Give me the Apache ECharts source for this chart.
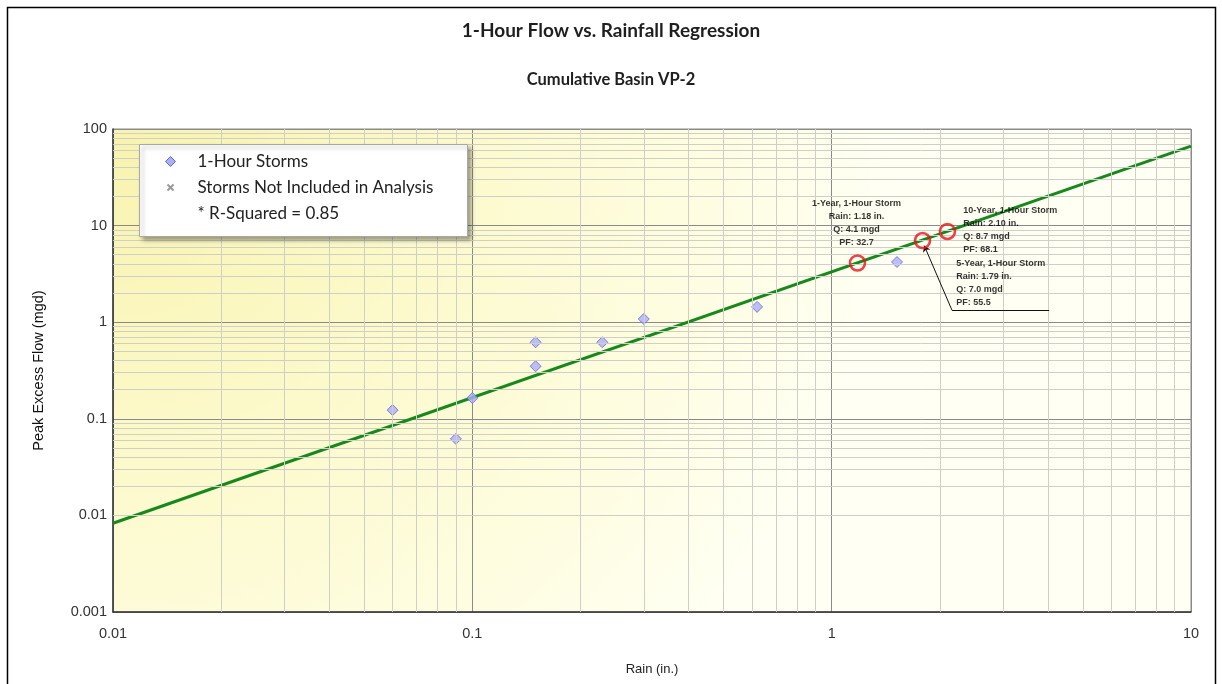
<!DOCTYPE html>
<html><head><meta charset="utf-8">
<script src="https://cdn.jsdelivr.net/npm/echarts@6/dist/echarts.min.js"></script>
<style>html,body{margin:0;padding:0;background:#fff}#c{width:1222px;height:684px}</style>
</head><body><div id="c"></div>
<script>
// ---- data ----
const stormRain = [0.06, 0.09, 0.10, 0.15, 0.15, 0.23, 0.30, 0.62, 1.52];
const stormFlow = [0.123, 0.062, 0.164, 0.62, 0.35, 0.62, 1.08, 1.44, 4.2];
const excludedRain = [];
const excludedFlow = [];
const regressionRain = [0.01, 10];
const regressionFlow = [0.0083, 66.5];
const designNames = ['1-Year, 1-Hour Storm', '5-Year, 1-Hour Storm', '10-Year, 1-Hour Storm'];
const designRain = [1.18, 1.79, 2.10];
const designFlow = [4.1, 7.0, 8.7];
const designPF = [32.7, 55.5, 68.1];
const leaderRain = [4.03, 2.16, 1.81];
const leaderFlow = [1.34, 1.34, 6.2];
const rSquared = 0.85;
const xTicks = [0.01, 0.1, 1, 10];
const xTickLabels = ['0.01', '0.1', '1', '10'];
const yTicks = [0.001, 0.01, 0.1, 1, 10, 100];
const yTickLabels = ['0.001', '0.01', '0.1', '1', '10', '100'];
const xMinor = [0.02,0.03,0.04,0.05,0.06,0.07,0.08,0.09,0.2,0.3,0.4,0.5,0.6,0.7,0.8,0.9,2,3,4,5,6,7,8,9];
const yMinor = [0.002,0.003,0.004,0.005,0.006,0.007,0.008,0.009,0.02,0.03,0.04,0.05,0.06,0.07,0.08,0.09,
  0.2,0.3,0.4,0.5,0.6,0.7,0.8,0.9,2,3,4,5,6,7,8,9,20,30,40,50,60,70,80,90];

function tickLabel(ticks, labels) {
  return function (v) {
    for (let i = 0; i < ticks.length; i++) {
      if (Math.abs(Math.log10(v) - Math.log10(ticks[i])) < 1e-6) return labels[i];
    }
    return '';
  };
}

const chart = echarts.init(document.getElementById('c'));

const designLabelPlacement = [
  { position: 'top', align: 'center', offset: [-1, 0] },
  { position: 'right', align: 'left', offset: [20, 42] },
  { position: 'right', align: 'left', offset: [2, -1] }
];

const minorLines = xMinor.map(v => ({ xAxis: v })).concat(yMinor.map(v => ({ yAxis: v })));
const LZ = 50;

const option = {
  backgroundColor: '#fff',
  animation: false,
  title: [
    { text: '1-Hour Flow vs. Rainfall Regression', left: 'center', top: 16,
      textStyle: { fontFamily: 'Lato', fontWeight: 'bold', fontSize: 19, color: '#1e1e1e' } },
    { text: 'Cumulative Basin VP-2', left: 'center', top: 66,
      textStyle: { fontFamily: 'Lato', fontWeight: 'bold', fontSize: 16.5, color: '#1e1e1e' } }
  ],
  grid: {
    left: 113, right: 31, top: 129, bottom: 72, show: true,
    borderColor: '#8a8a8a', borderWidth: 1,
    backgroundColor: new echarts.graphic.RadialGradient(0, 0, 1.6, [
      { offset: 0, color: '#f8f3ae' },
      { offset: 0.4, color: '#fcf9c9' },
      { offset: 0.75, color: '#fefde0' },
      { offset: 1, color: '#fffff3' }
    ])
  },
  xAxis: {
    type: 'log', logBase: 10, min: 0.01, max: 10,
    name: 'Rain (in.)', nameLocation: 'middle', nameGap: 51,
    nameTextStyle: { fontFamily: 'Liberation Sans', fontSize: 13, color: '#222' },
    axisLine: { show: true, lineStyle: { color: '#333', width: 1.5 } },
    axisTick: { show: false },
    axisLabel: { formatter: tickLabel(xTicks, xTickLabels), margin: 14,
      fontFamily: 'Liberation Sans', fontSize: 14.5, color: '#333' },
    splitLine: { show: true, lineStyle: { color: '#8a8a8a', width: 1 } }
  },
  yAxis: {
    type: 'log', logBase: 10, min: 0.001, max: 100,
    name: 'Peak Excess Flow (mgd)', nameLocation: 'middle', nameGap: 67,
    nameTextStyle: { fontFamily: 'Liberation Sans', fontSize: 14.5, color: '#111' },
    axisLine: { show: true, lineStyle: { color: '#333', width: 1.5 } },
    axisTick: { show: false },
    axisLabel: { formatter: tickLabel(yTicks, yTickLabels), margin: 6,
      fontFamily: 'Liberation Sans', fontSize: 14.5, color: '#333' },
    splitLine: { show: true, lineStyle: { color: '#8a8a8a', width: 1 } }
  },
  series: [
    {
      name: 'minor-grid', type: 'line', data: [], z: 1, silent: true,
      markLine: { silent: true, symbol: 'none', label: { show: false },
        lineStyle: { color: '#cfcfc8', width: 1, type: 'solid' }, data: minorLines, animation: false }
    },
    {
      name: 'Regression', type: 'line', z: 3,
      data: regressionRain.map((x, i) => [x, regressionFlow[i]]),
      showSymbol: false, symbol: 'none',
      lineStyle: { color: '#17881b', width: 3 }
    },
    {
      name: '1-Hour Storms', type: 'scatter', z: 4,
      data: stormRain.map((x, i) => [x, stormFlow[i]]),
      symbol: 'diamond', symbolSize: 11,
      itemStyle: { color: '#abaffa', borderColor: '#6468d4', borderWidth: 1 }
    },
    {
      name: 'Storms Not Included in Analysis', type: 'scatter', z: 4,
      data: excludedRain.map((x, i) => [x, excludedFlow[i]]),
      symbol: 'path://M0,0L10,10M10,0L0,10', symbolSize: 7,
      itemStyle: { color: '#999', borderColor: '#999', borderWidth: 2 }
    },
    {
      name: 'leader', type: 'line', z: 4, data: [], silent: true,
      markLine: {
        silent: true, label: { show: false }, symbolSize: 6,
        lineStyle: { color: '#111', width: 1, type: 'solid' },
        data: [
          [{ coord: [leaderRain[0], leaderFlow[0]], symbol: 'none' },
           { coord: [leaderRain[1], leaderFlow[1]], symbol: 'none' }],
          [{ coord: [leaderRain[1], leaderFlow[1]], symbol: 'none' },
           { coord: [leaderRain[2], leaderFlow[2]], symbol: 'arrow' }]
        ],
        animation: false
      }
    },
    {
      name: 'Design Storms', type: 'scatter', z: 5,
      symbol: 'circle', symbolSize: 15,
      itemStyle: { color: 'rgba(0,0,0,0)', borderColor: '#e8141b', borderWidth: 2.6 },
      label: {
        show: true, fontFamily: 'Liberation Sans', fontWeight: 'bold', fontSize: 9,
        lineHeight: 13, color: '#000', distance: 5
      },
      data: designRain.map((x, i) => ({
        value: [x, designFlow[i]],
        label: Object.assign({
          formatter: designNames[i] + '\nRain: ' + designRain[i].toFixed(2) + ' in.\nQ: ' +
            designFlow[i].toFixed(1) + ' mgd\nPF: ' + designPF[i].toFixed(1)
        }, designLabelPlacement[i])
      }))
    }
  ],
  graphic: [
    { type: 'rect', left: 5, top: 5, z: 100, silent: true,
      shape: { width: 1208, height: 700 },
      style: { fill: 'none', stroke: '#000', lineWidth: 1.5 } },
    {
      type: 'group', left: 139, top: 144, z: LZ,
      children: [
        { type: 'rect', z: LZ, shape: { x: 0, y: 0, width: 328, height: 92 },
          style: { fill: '#fff', stroke: '#a8a8a8', lineWidth: 1,
            shadowBlur: 4, shadowOffsetX: 3, shadowOffsetY: 3, shadowColor: 'rgba(0,0,0,0.35)' } },
        { type: 'polygon', z: LZ + 1, shape: { points: [[31, 12], [36, 17], [31, 22], [26, 17]] },
          style: { fill: '#abaffa', stroke: '#6468d4', lineWidth: 1 } },
        { type: 'line', z: LZ + 1, shape: { x1: 28, y1: 40, x2: 34, y2: 46 }, style: { stroke: '#999', lineWidth: 2 } },
        { type: 'line', z: LZ + 1, shape: { x1: 34, y1: 40, x2: 28, y2: 46 }, style: { stroke: '#999', lineWidth: 2 } },
        { type: 'text', z: LZ + 1, x: 58, y: 17, style: { text: '1-Hour Storms', font: '17px Lato', fill: '#222', verticalAlign: 'middle' } },
        { type: 'text', z: LZ + 1, x: 58, y: 43, style: { text: 'Storms Not Included in Analysis', font: '17px Lato', fill: '#222', verticalAlign: 'middle' } },
        { type: 'text', z: LZ + 1, x: 58, y: 69, style: { text: '* R-Squared = ' + rSquared.toFixed(2), font: '17px Lato', fill: '#222', verticalAlign: 'middle' } }
      ]
    }
  ]
};
chart.setOption(option);
</script>
</body></html>
